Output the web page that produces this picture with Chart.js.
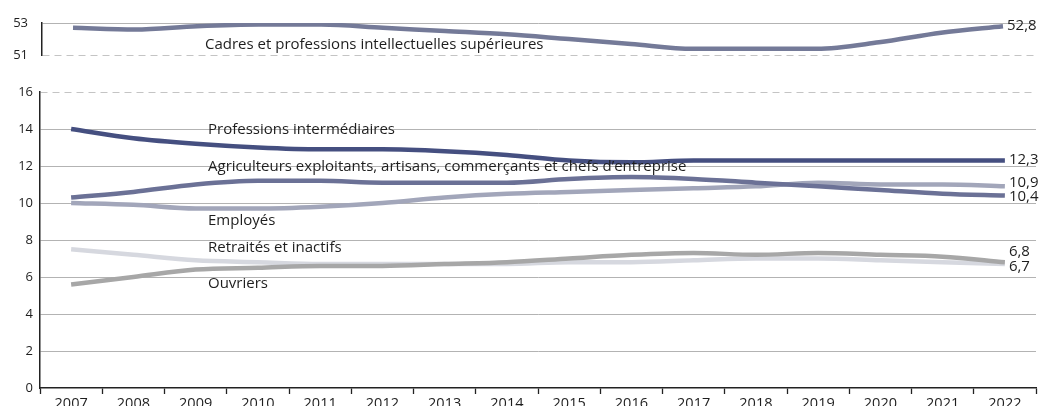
<!DOCTYPE html>
<html lang="fr">
<head>
<meta charset="UTF-8">
<title>Catégories socioprofessionnelles</title>
<script src="https://cdn.jsdelivr.net/npm/chart.js"></script>
<style>
    html, body { margin: 0; padding: 0; background: #fff; overflow: hidden; }
    body { width: 1039px; height: 406px; position: relative; }
    .panel { position: absolute; left: 0; width: 1039px; }
    #top { top: 0; height: 77px; }
    #bottom { top: 70px; height: 350px; }
</style>
</head>
<body>
<div class="panel" id="top"><canvas id="topChart"></canvas></div>
<div class="panel" id="bottom"><canvas id="bottomChart"></canvas></div>

<script>
const years = ['2007', '2008', '2009', '2010', '2011', '2012', '2013', '2014',
               '2015', '2016', '2017', '2018', '2019', '2020', '2021', '2022'];

const cadres       = [52.7, 52.6, 52.8, 52.9, 52.9, 52.7, 52.5, 52.3, 52.0, 51.7, 51.4, 51.4, 51.4, 51.8, 52.4, 52.8];
const profInter    = [14.0, 13.5, 13.2, 13.0, 12.9, 12.9, 12.8, 12.6, 12.3, 12.2, 12.3, 12.3, 12.3, 12.3, 12.3, 12.3];
const agriculteurs = [10.3, 10.6, 11.0, 11.2, 11.2, 11.1, 11.1, 11.1, 11.3, 11.4, 11.3, 11.1, 10.9, 10.7, 10.5, 10.4];
const employes     = [10.0, 9.9, 9.7, 9.7, 9.8, 10.0, 10.3, 10.5, 10.6, 10.7, 10.8, 10.9, 11.1, 11.0, 11.0, 10.9];
const retraites    = [7.5, 7.2, 6.9, 6.8, 6.7, 6.7, 6.7, 6.7, 6.8, 6.8, 6.9, 7.0, 7.0, 6.9, 6.8, 6.7];
const ouvriers     = [5.6, 6.0, 6.4, 6.5, 6.6, 6.6, 6.7, 6.8, 7.0, 7.2, 7.3, 7.2, 7.3, 7.2, 7.1, 6.8];

const topTicks = [51, 53];
const bottomTicks = [0, 2, 4, 6, 8, 10, 12, 14, 16];

const FONT = '"Open Sans", sans-serif';
const TEXT = '#1e1e1e';
const GRID = '#b3b3b3';
const DASH = '#c4c4c4';

// name = inline series label (pixel spot on the page), endDy = nudge of the end value
const series = {
    cadres:       { name: 'Cadres et professions intellectuelles supérieures', color: '#747a98', nameX: 205, nameY: 45, endDy: 0 },
    profInter:    { name: 'Professions intermédiaires', color: '#454f80', nameX: 208, nameY: 130, endDy: -1 },
    agriculteurs: { name: 'Agriculteurs exploitants, artisans, commerçants et chefs d\u2019entreprise', color: '#6b7196', nameX: 208, nameY: 167, endDy: 1 },
    employes:     { name: 'Employés', color: '#a2a6ba', nameX: 208, nameY: 221, endDy: -4 },
    retraites:    { name: 'Retraités et inactifs', color: '#d6d8df', nameX: 208, nameY: 248, endDy: 3 },
    ouvriers:     { name: 'Ouvriers', color: '#a7a7a7', nameX: 208, nameY: 284, endDy: -10 }
};

const fmt = v => v.toFixed(1).replace('.', ',');

const labelPlugin = {
    id: 'seriesLabels',
    afterDatasetsDraw(chart, args, opts) {
        const { ctx } = chart;
        const canvasTop = opts.canvasTop;
        ctx.save();
        ctx.font = '15px ' + FONT;
        ctx.fillStyle = TEXT;
        ctx.textBaseline = 'middle';
        ctx.textAlign = 'left';
        chart.data.datasets.forEach((ds, i) => {
            const s = series[ds.key];
            const meta = chart.getDatasetMeta(i);
            const last = meta.data[meta.data.length - 1];
            ctx.fillText(fmt(ds.data[ds.data.length - 1]), last.x + 4, last.y + s.endDy);
            ctx.fillText(s.name, s.nameX, s.nameY - canvasTop);
        });
        ctx.restore();
    }
};

function lineSet(key, data) {
    return {
        key: key,
        data: data,
        borderColor: series[key].color,
        borderWidth: 4.5,
        pointRadius: 0,
        cubicInterpolationMode: 'monotone',
        fill: false
    };
}

function xScale(show, height) {
    return {
        type: 'category',
        offset: true,
        afterFit: s => { s.height = height; },
        grid: { display: show, offset: true, drawOnChartArea: false, drawTicks: true, tickLength: 6, tickColor: '#222', tickWidth: 1.3 },
        border: { display: show, color: '#222', width: 1.5 },
        ticks: { display: show, color: TEXT, font: { family: FONT, size: 14.5 }, padding: 1, maxRotation: 0, autoSkip: false }
    };
}

function yScale(min, max, ticks, pad, width, dashed, hidden) {
    return {
        min: min,
        max: max,
        afterBuildTicks: s => { s.ticks = ticks.map(v => ({ value: v })); },
        afterFit: s => { s.width = width; },
        grid: {
            drawTicks: false,
            lineWidth: 1,
            color: c => (c.tick && c.tick.value === hidden) ? 'rgba(0,0,0,0)' : (c.tick && c.tick.value === dashed ? DASH : GRID)
        },
        border: {
            color: '#222',
            width: 1.5,
            dash: c => (c.tick && c.tick.value === dashed) ? [7, 5] : []
        },
        ticks: { color: TEXT, font: { family: FONT, size: 13 }, padding: pad }
    };
}

// tick padding also pads the plot vertically, so the top canvas is sized for a bottom edge at 55px
new Chart(document.getElementById('topChart'), {
    type: 'line',
    data: { labels: years, datasets: [lineSet('cadres', cadres)] },
    options: {
        responsive: true,
        maintainAspectRatio: false,
        animation: false,
        layout: { padding: { top: 23, bottom: 0, right: 5, left: 0 } },
        plugins: { legend: { display: false }, tooltip: { enabled: false }, seriesLabels: { canvasTop: 0 } },
        scales: {
            x: xScale(false, 0),
            y: yScale(51, 53, topTicks, 14, 42, 51, null)
        }
    },
    plugins: [labelPlugin]
});

new Chart(document.getElementById('bottomChart'), {
    type: 'line',
    data: {
        labels: years,
        datasets: [
            lineSet('profInter', profInter),
            lineSet('agriculteurs', agriculteurs),
            lineSet('ouvriers', ouvriers),
            lineSet('employes', employes),
            lineSet('retraites', retraites)
        ]
    },
    options: {
        responsive: true,
        maintainAspectRatio: false,
        animation: false,
        layout: { padding: { top: 22, bottom: 0, right: 3, left: 0 } },
        plugins: { legend: { display: false }, tooltip: { enabled: false }, seriesLabels: { canvasTop: 70 } },
        scales: {
            x: xScale(true, 32),
            y: yScale(0, 16, bottomTicks, 7, 40, 16, 0)
        }
    },
    plugins: [labelPlugin]
});
</script>
</body>
</html>
